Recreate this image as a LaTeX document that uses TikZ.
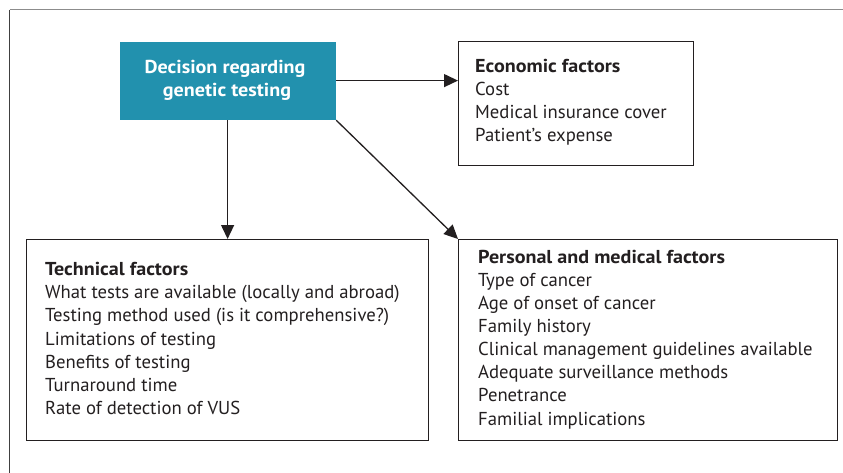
\documentclass[tikz,border=0pt]{standalone}
\usepackage{fontspec}
\setmainfont{PT Sans}[BoldFeatures={FakeStretch=1.075}]
\usetikzlibrary{arrows.meta}
\definecolor{tealbox}{RGB}{34,145,174}
\definecolor{ink}{RGB}{35,31,32}
\begin{document}
\begin{tikzpicture}[x=1pt,y=-1pt,
  box/.style={draw=ink, line width=1.2pt, rectangle, inner sep=0pt, anchor=north west},
  txt/.style={anchor=base west, inner sep=0pt, font=\fontsize{18.7}{22}\selectfont, text=ink},
  ttl/.style={txt, font=\fontsize{18.7}{22}\selectfont\bfseries},
  dtxt/.style={anchor=base, inner sep=0pt, font=\fontsize{18.7}{22}\selectfont\bfseries, text=white},
  arr/.style={draw=ink, line width=1.3pt, -{Triangle[length=14pt,width=13pt]}}]
\useasboundingbox (0,0) rectangle (843,473);
% outer frame
\draw[line width=1pt, gray!90] (9.5,10) -- (843,10);
\draw[line width=1pt, black!75] (9.5,10) -- (9.5,473);
% boxes
\node[box, draw=none, fill=tealbox, minimum width=216pt, minimum height=78pt] (dec) at (119,41) {};
\node[box, minimum width=235pt, minimum height=124pt] (econ) at (458,41) {};
\node[box, minimum width=402pt, minimum height=201pt] (tech) at (26,239) {};
\node[box, minimum width=379pt, minimum height=201pt] (pers) at (458,239) {};
% decision text
\node[dtxt] (d1) at (225,74) {Decision regarding};
\node[dtxt] (d2) at (227,97) {genetic testing};
% economic
\node[ttl] (e0) at (475,72.7) {Economic factors};
\node[txt] (e1) at (475,95.8) {Cost};
\node[txt] (e2) at (475,118.9) {Medical insurance cover};
\node[txt] (e3) at (475,142) {Patient’s expense};
% technical
\node[ttl] (t0) at (45,275.7) {Technical factors};
\node[txt] (t1) at (45,298.8) {What tests are available (locally and abroad)};
\node[txt] (t2) at (45,321.9) {Testing method used (is it comprehensive?)};
\node[txt] (t3) at (45,345) {Limitations of testing};
\node[txt] (t4) at (45,368.1) {Benefits of testing};
\node[txt] (t5) at (45,391.2) {Turnaround time};
\node[txt] (t6) at (45,414.3) {Rate of detection of VUS};
% personal
\node[ttl] (p0) at (478,263.3) {Personal and medical factors};
\node[txt] (p1) at (478,286.4) {Type of cancer};
\node[txt] (p2) at (478,309.5) {Age of onset of cancer};
\node[txt] (p3) at (478,332.6) {Family history};
\node[txt] (p4) at (478,355.7) {Clinical management guidelines available};
\node[txt] (p5) at (478,378.8) {Adequate surveillance methods};
\node[txt] (p6) at (478,401.9) {Penetrance};
\node[txt] (p7) at (478,425) {Familial implications};
% connectors
\draw[arr] (dec.east) -- (econ.west |- dec.east);
\draw[arr] (dec.south) -- (tech.north -| dec.south);
\draw[arr] (dec.south east) -- (pers.north west);
\end{tikzpicture}
\end{document}
